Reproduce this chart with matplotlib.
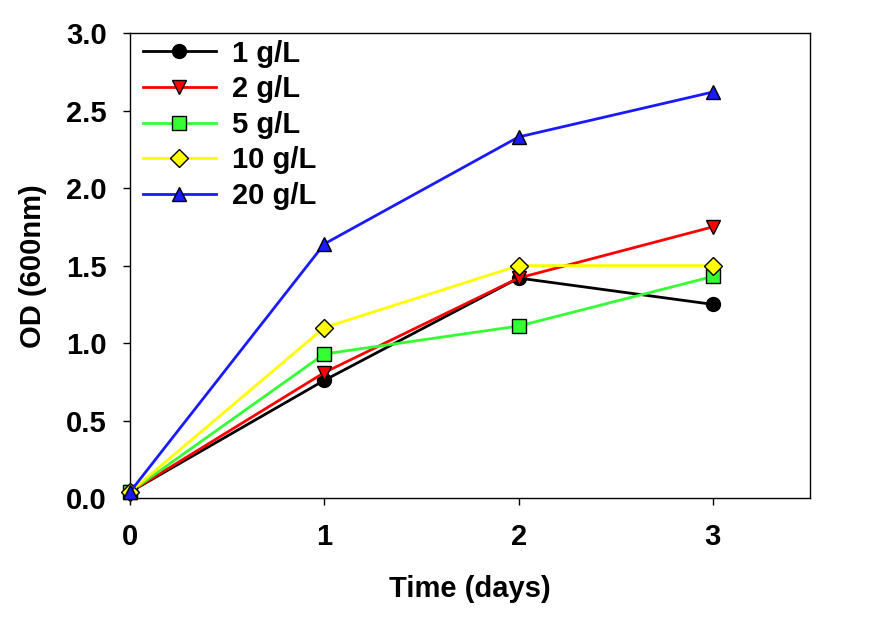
import matplotlib.pyplot as plt

plt.rcParams['font.family'] = ['Liberation Sans', 'DejaVu Sans']
plt.rcParams['font.weight'] = 'bold'

days = [0, 1, 2, 3]
od_1 = [0.04, 0.76, 1.42, 1.25]
od_2 = [0.04, 0.81, 1.42, 1.75]
od_5 = [0.04, 0.93, 1.11, 1.43]
od_10 = [0.04, 1.10, 1.50, 1.50]
od_20 = [0.04, 1.64, 2.33, 2.62]

series = [
    ("1 g/L", od_1, "black", "o"),
    ("2 g/L", od_2, "#ff0000", "v"),
    ("5 g/L", od_5, "#33ff33", "s"),
    ("10 g/L", od_10, "#ffff00", "D"),
    ("20 g/L", od_20, "#1a1aff", "^"),
]

fig = plt.figure(figsize=(8.87, 6.37), dpi=100)
ax = fig.add_axes([0.1466, 0.218, 0.7666, 0.730])

for label, y, c, m in series:
    ms = 9 if m == "D" else 10
    ax.plot(days, y, color=c, lw=2, marker=m, markersize=ms,
            markerfacecolor=c, markeredgecolor="black", markeredgewidth=1,
            label=label, clip_on=False, zorder=3)

ax.set_xlim(0, 3.5)
ax.set_ylim(0, 3.0)
ax.set_xticks(days)
ax.set_yticks([0, 0.5, 1.0, 1.5, 2.0, 2.5, 3.0])
ax.set_yticklabels(["0.0", "0.5", "1.0", "1.5", "2.0", "2.5", "3.0"])
ax.tick_params(direction="out", length=5, width=1, labelsize=21,
               top=False, right=False)
ax.tick_params(axis="y", pad=11.5)
ax.tick_params(axis="x", pad=13)
for s in ax.spines.values():
    s.set_linewidth(1)

ax.set_xlabel("Time (days)", fontsize=21, fontweight="bold", labelpad=17)
ax.set_ylabel("OD (600nm)", fontsize=21, fontweight="bold", labelpad=14)

ax.legend(loc="upper left", bbox_to_anchor=(0.019, 0.986), frameon=False,
          fontsize=21, handlelength=2.5, borderaxespad=0, borderpad=0,
          labelspacing=0.26, handletextpad=0.55)

plt.savefig("out.png")
